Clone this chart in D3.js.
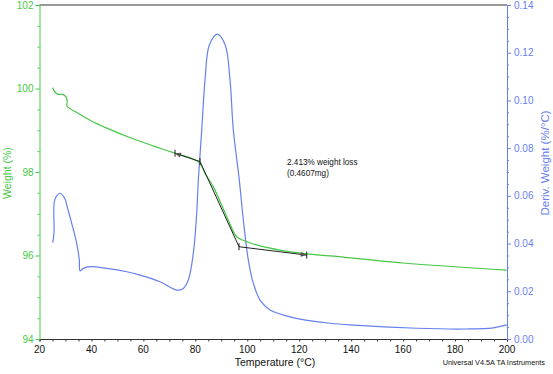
<!DOCTYPE html>
<html>
<head>
<meta charset="utf-8">
<script src="https://cdn.jsdelivr.net/npm/d3@7"></script>
<style>
  body { margin: 0; background: #fff; }
  svg { display: block; font-family: "Liberation Sans", Arial, sans-serif; }
</style>
</head>
<body>
<div id="chart"></div>
<script>
// weight curve (%)
const weightT   = [25.08, 26.0, 27.2, 28.9, 30.2, 30.7, 30.55, 35.0, 40.0, 45.9, 55.0, 66.4, 72.2, 79.2, 81.8, 83.7, 86.9, 92.1, 95.9, 99.8, 104.9, 112.6, 122.9, 131.9, 160.0, 199.9];
const weightPct = [100.02, 99.91, 99.86, 99.86, 99.80, 99.68, 99.58, 99.40, 99.22, 99.05, 98.82, 98.57, 98.45, 98.31, 98.21, 97.97, 97.65, 96.93, 96.45, 96.33, 96.23, 96.13, 96.04, 95.99, 95.82, 95.65];

// derivative curve (%/°C)
const derivT   = [25.08, 25.58, 25.62, 26.35, 27.89, 29.16, 30.09, 30.47, 32.40, 34.32, 35.33, 35.60, 36.87, 39.45, 45.88, 53.58, 58.70, 66.40, 72.83, 75.37, 77.30, 79.22, 80.53, 81.15, 82.46, 83.73, 85.4, 88.46, 91.5, 93.35, 94.63, 96.93, 98.48, 100.40, 102.33, 104.91, 108.76, 116.46, 120.3, 131.86, 139.56, 165.25, 184.5, 194.7, 199.9];
const derivVal = [0.0404, 0.0443, 0.0569, 0.0596, 0.0611, 0.0599, 0.0580, 0.0562, 0.0485, 0.0401, 0.0331, 0.0286, 0.0296, 0.0303, 0.0296, 0.0282, 0.0268, 0.0240, 0.0205, 0.0212, 0.0247, 0.0359, 0.0527, 0.0666, 0.0876, 0.1086, 0.1232, 0.1278, 0.1232, 0.1086, 0.0876, 0.0666, 0.0499, 0.0331, 0.0234, 0.0163, 0.0122, 0.0093, 0.0083, 0.0066, 0.0059, 0.0045, 0.0042, 0.0047, 0.0059];

// step analysis construction line
const stepT = [72.18, 81.80, 96.82, 122.89];
const stepW = [98.45, 98.25, 96.21, 96.01];

const xTicks = [20, 40, 60, 80, 100, 120, 140, 160, 180, 200];
const wTicks = [94, 96, 98, 100, 102];
const dTicks = [0, 0.02, 0.04, 0.06, 0.08, 0.10, 0.12, 0.14];

const stepLabel = ["2.413% weight loss", "(0.4607mg)"];

const width = 553, height = 374;
const green = "#45c845", blue = "#6680ee", axisDark = "#333";

const x = d3.scaleLinear().domain([20, 200]).range([39.5, 507]);
const yW = d3.scaleLinear().domain([94, 102]).range([339, 5]);
const yD = d3.scaleLinear().domain([0, 0.14]).range([339, 5]);

const svg = d3.select("#chart").append("svg")
  .attr("width", width)
  .attr("height", height);

svg.append("defs").selectAll("marker")
  .data(["arrowEnd", "arrowStart"])
  .join("marker")
  .attr("id", d => d)
  .attr("viewBox", "0 -5 10 10")
  .attr("refX", 10)
  .attr("refY", 0)
  .attr("markerWidth", 7)
  .attr("markerHeight", 6)
  .attr("markerUnits", "userSpaceOnUse")
  .attr("orient", d => d == "arrowEnd" ? "auto" : "auto-start-reverse")
  .append("path")
  .attr("d", "M0,-4L10,0L0,4Z")
  .attr("fill", "#555");

// frame top line
svg.append("line")
  .attr("x1", x(20)).attr("x2", x(200))
  .attr("y1", yW(102)).attr("y2", yW(102))
  .attr("stroke", axisDark).attr("stroke-width", 1);

// bottom axis
const xAxis = svg.append("g")
  .attr("transform", `translate(0,${yW(94)})`)
  .call(d3.axisBottom(x).tickValues(d3.range(20, 201, 5)).tickSize(2.5).tickFormat(""));
xAxis.select(".domain").attr("stroke", axisDark);
xAxis.selectAll(".tick line").attr("stroke", axisDark);
svg.append("g").selectAll("text")
  .data(xTicks)
  .join("text")
  .attr("x", d => x(d))
  .attr("y", 352.5)
  .attr("text-anchor", "middle")
  .attr("font-size", 10)
  .attr("fill", "#111")
  .text(d => d);

// left axis (weight)
const leftAxis = svg.append("g")
  .attr("transform", `translate(${x(20)},0)`)
  .call(d3.axisLeft(yW).tickValues(d3.range(94, 102.01, 0.5)).tickSize(2).tickFormat(""));
leftAxis.selectAll(".tick line").filter(d => d % 2 == 0).attr("x2", -4);
leftAxis.selectAll("path, line").attr("stroke", green);
svg.append("g").selectAll("text")
  .data(wTicks)
  .join("text")
  .attr("x", 33.5)
  .attr("y", d => yW(d) + 3.5)
  .attr("text-anchor", "end")
  .attr("font-size", 10)
  .attr("fill", green)
  .text(d => d);

// right axis (derivative)
const rightAxis = svg.append("g")
  .attr("transform", `translate(${x(200)},0)`)
  .call(d3.axisRight(yD).tickValues(d3.range(0, 0.1401, 0.005)).tickSize(2).tickFormat(""));
rightAxis.selectAll(".tick line").filter((d, i) => i % 4 == 0).attr("x2", 4);
rightAxis.selectAll("path, line").attr("stroke", blue);
svg.append("g").selectAll("text")
  .data(dTicks)
  .join("text")
  .attr("x", 514)
  .attr("y", d => yD(d) + 3.5)
  .attr("font-size", 10)
  .attr("fill", blue)
  .text(d => d.toFixed(2));

// titles
svg.append("text")
  .attr("x", 275).attr("y", 366)
  .attr("text-anchor", "middle")
  .attr("font-size", 10.5)
  .attr("fill", "#111")
  .text("Temperature (°C)");

svg.append("text")
  .attr("transform", "translate(11,173) rotate(-90)")
  .attr("text-anchor", "middle")
  .attr("font-size", 10.5)
  .attr("fill", green)
  .text("Weight (%)");

svg.append("text")
  .attr("transform", "translate(549,163) rotate(-90)")
  .attr("text-anchor", "middle")
  .attr("font-size", 11.5)
  .attr("fill", blue)
  .text("Deriv. Weight (%/°C)");

svg.append("text")
  .attr("x", 545).attr("y", 365)
  .attr("text-anchor", "end")
  .attr("font-size", 7.3)
  .attr("fill", "#111")
  .text("Universal V4.5A TA Instruments");

// curves
const derivLine = d3.line()
  .x((d, i) => x(derivT[i]))
  .y(d => yD(d))
  .curve(d3.curveCatmullRom.alpha(0.5));

svg.append("path")
  .datum(derivVal)
  .attr("d", derivLine)
  .attr("fill", "none")
  .attr("stroke", blue)
  .attr("stroke-width", 1.2);

const weightLine = d3.line()
  .x((d, i) => x(weightT[i]))
  .y(d => yW(d))
  .curve(d3.curveCatmullRom.alpha(0.5));

svg.append("path")
  .datum(weightPct)
  .attr("d", weightLine)
  .attr("fill", "none")
  .attr("stroke", green)
  .attr("stroke-width", 1.2);

// step construction
const stepLine = d3.line()
  .x((d, i) => x(stepT[i]))
  .y(d => yW(d));

svg.append("path")
  .datum(stepW)
  .attr("d", stepLine)
  .attr("fill", "none")
  .attr("stroke", "#222")
  .attr("stroke-width", 1)
  .attr("marker-start", "url(#arrowStart)")
  .attr("marker-end", "url(#arrowEnd)");

svg.append("g").selectAll("line")
  .data(stepW)
  .join("line")
  .attr("x1", (d, i) => x(stepT[i]))
  .attr("x2", (d, i) => x(stepT[i]))
  .attr("y1", d => yW(d) - 3.5)
  .attr("y2", d => yW(d) + 3.5)
  .attr("stroke", "#222")
  .attr("stroke-width", 1);

svg.append("g").selectAll("text")
  .data(stepLabel)
  .join("text")
  .attr("x", 287)
  .attr("y", (d, i) => 165 + i * 11)
  .attr("font-size", 8.2)
  .attr("fill", "#111")
  .text(d => d);
</script>
</body>
</html>
